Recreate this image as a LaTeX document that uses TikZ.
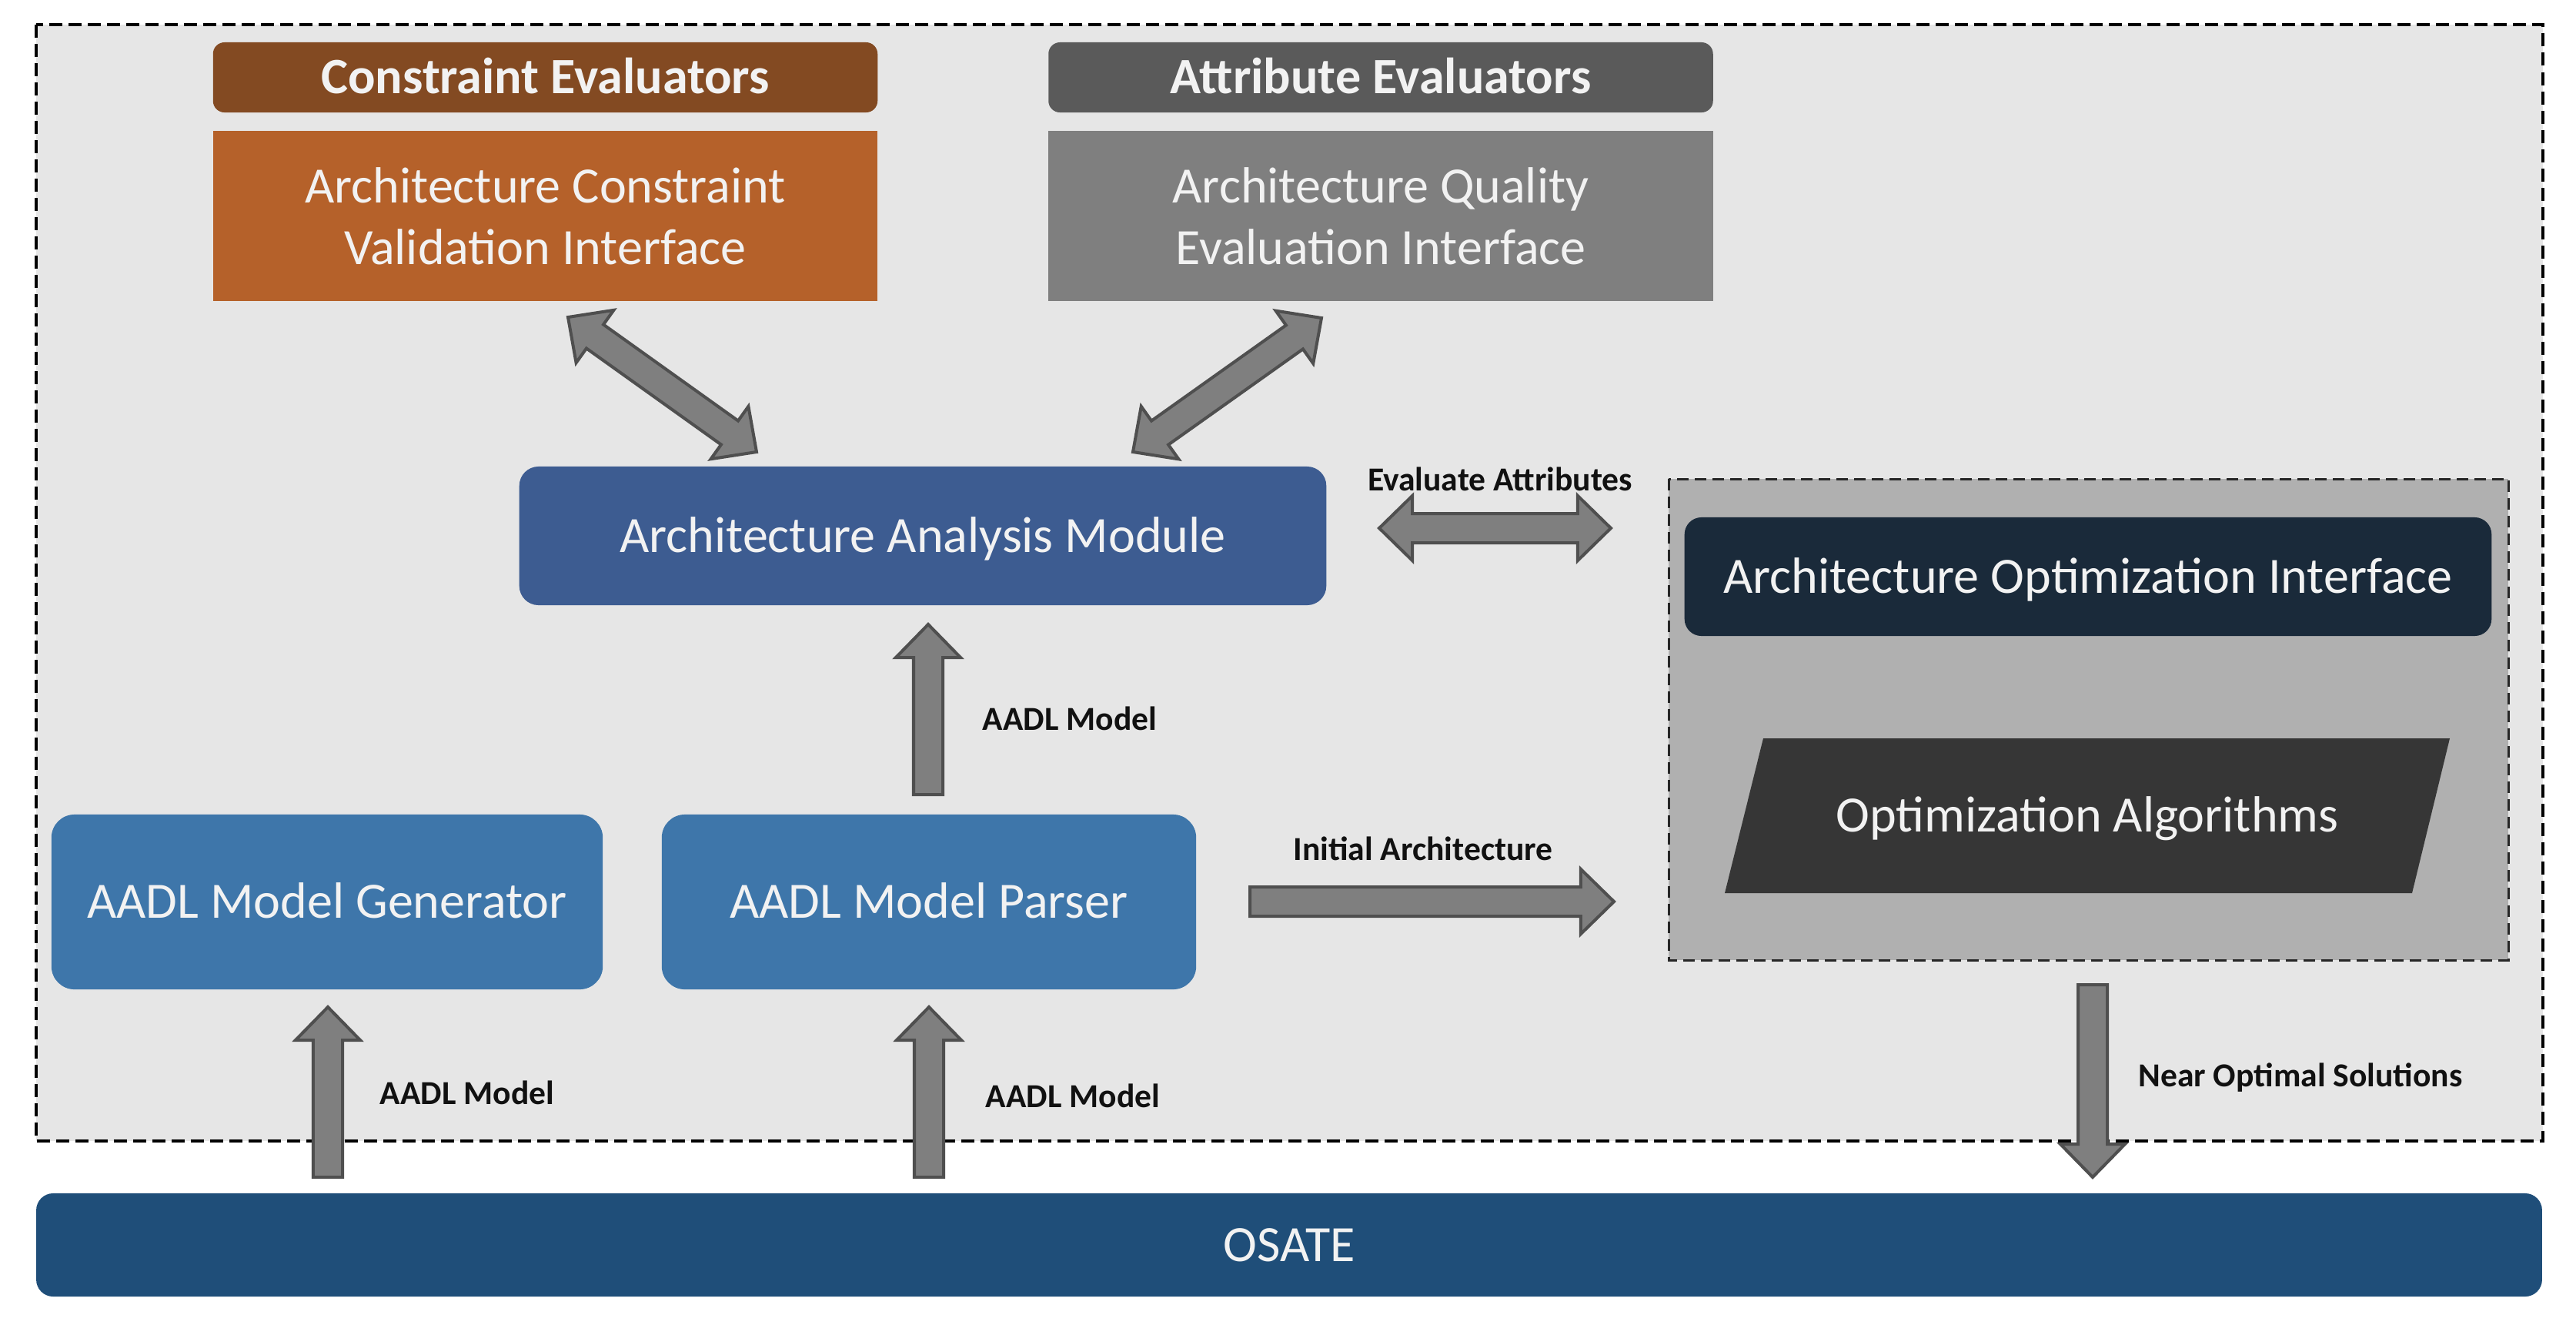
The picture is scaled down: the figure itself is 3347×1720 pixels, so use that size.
\documentclass[tikz,border=0pt]{standalone}
\usepackage{fontspec}
\setmainfont{Carlito}
\usetikzlibrary{calc}
\definecolor{outerbg}{HTML}{E6E6E6}
\definecolor{optbg}{HTML}{B0B0B0}
\definecolor{hdrC}{HTML}{834A22}
\definecolor{valC}{HTML}{B5612A}
\definecolor{hdrA}{HTML}{5A5A5A}
\definecolor{valA}{HTML}{7F7F7F}
\definecolor{aamc}{HTML}{3D5C91}
\definecolor{genc}{HTML}{3E76AA}
\definecolor{aoic}{HTML}{1A2A3A}
\definecolor{oac}{HTML}{363636}
\definecolor{osatec}{HTML}{1F4E79}
\definecolor{boxtxt}{HTML}{F2F2F2}
\definecolor{arrfill}{HTML}{7F7F7F}
\definecolor{arrdraw}{HTML}{4F4F4F}
\definecolor{lbltxt}{HTML}{111111}
\newcommand{\bigfnt}{\fontsize{18.8}{22.8}\selectfont}
\newcommand{\lblfnt}{\fontsize{12.4}{14}\selectfont\bfseries}
\newcommand{\blkarrow}[2]{%
  \coordinate (bh) at ($(#2)!0.43cm!(#1)$);
  \draw[blockarrow] ($(#1)!0.19cm!90:(#2)$) -- ($(bh)!0.19cm!90:(#2)$) -- ($(bh)!0.42cm!90:(#2)$) -- (#2) -- ($(bh)!0.42cm!-90:(#2)$) -- ($(bh)!0.19cm!-90:(#2)$) -- ($(#1)!0.19cm!-90:(#2)$) -- cycle;}
\newcommand{\blkdarrow}[2]{%
  \coordinate (bha) at ($(#1)!0.43cm!(#2)$);
  \coordinate (bhb) at ($(#2)!0.43cm!(#1)$);
  \draw[blockarrow] (#1) -- ($(bha)!0.42cm!90:(#2)$) -- ($(bha)!0.19cm!90:(#2)$) -- ($(bhb)!0.19cm!90:(#2)$) -- ($(bhb)!0.42cm!90:(#2)$) -- (#2) -- ($(bhb)!0.42cm!-90:(#2)$) -- ($(bhb)!0.19cm!-90:(#2)$) -- ($(bha)!0.19cm!-90:(#2)$) -- ($(bha)!0.42cm!-90:(#2)$) -- cycle;}
\tikzset{
  blockarrow/.style={fill=arrfill, draw=arrdraw, line width=0.04cm},
  boxbase/.style={inner sep=0pt, outer sep=0pt, text=boxtxt, font=\bigfnt, align=center},
  onebox/.style={boxbase, text height=12.1pt, text depth=0pt},
  hdrbox/.style={onebox, font=\bigfnt\bfseries, rounded corners=0.15cm},
  lbl/.style={inner sep=0pt, text=lbltxt, font=\lblfnt, anchor=base},
}
\begin{document}
\begin{tikzpicture}[x=0.01cm, y=-0.01cm]
\useasboundingbox (0,0) rectangle (3347,1720);
% outer region
\draw[fill=outerbg, draw=black, line width=0.04cm, dash pattern=on 0.17cm off 0.08cm] (47,32) rectangle (3304,1482);
% optimization region
\draw[fill=optbg, draw=black!85, line width=0.03cm, dash pattern=on 0.15cm off 0.08cm] (2168,622) rectangle (3259,1247);

% top boxes
\node[hdrbox, fill=hdrC, minimum width=8.63cm, minimum height=0.91cm] (hc) at (708.5,100.5) {Constraint Evaluators};
\node[boxbase, fill=valC, minimum width=8.63cm, minimum height=2.21cm] (vc) at (708.5,280.5) {Architecture Constraint\\Validation Interface};
\node[hdrbox, fill=hdrA, minimum width=8.63cm, minimum height=0.91cm] (ha) at (1794,100.5) {Attribute Evaluators};
\node[boxbase, fill=valA, minimum width=8.63cm, minimum height=2.21cm] (va) at (1794,280.5) {Architecture Quality\\Evaluation Interface};

% analysis module
\node[onebox, fill=aamc, rounded corners=0.25cm, minimum width=10.48cm, minimum height=1.80cm] (aam) at (1199,696) {Architecture Analysis Module};

% generator and parser
\node[onebox, fill=genc, rounded corners=0.3cm, minimum width=7.16cm, minimum height=2.27cm] (gen) at (425,1171.5) {AADL Model Generator};
\node[onebox, fill=genc, rounded corners=0.3cm, minimum width=6.94cm, minimum height=2.27cm] (par) at (1207,1171.5) {AADL Model Parser};

% optimization interface and algorithms
\node[onebox, fill=aoic, rounded corners=0.22cm, minimum width=10.48cm, minimum height=1.54cm] (aoi) at (2713,749) {Architecture Optimization Interface};
\coordinate (oa1) at (2291,959);
\coordinate (oa2) at (3183,959);
\coordinate (oa3) at (3134,1160);
\coordinate (oa4) at (2241,1160);
\fill[oac] (oa1) -- (oa2) -- (oa3) -- (oa4) -- cycle;
\node[onebox] (oa) at (2712,1059.5) {Optimization Algorithms};

% OSATE
\node[onebox, fill=osatec, rounded corners=0.22cm, minimum width=32.54cm, minimum height=1.34cm] (osate) at (1675,1617) {OSATE};

% arrow end points
\coordinate (c1) at (738,412);
\coordinate (c2) at (983,587);
\coordinate (a1) at (1717,413);
\coordinate (a2) at (1472,587);
\coordinate (e1) at (1792,686);
\coordinate (e2) at (2093,686);
\coordinate (p1) at (1206,1032);
\coordinate (p2) at (1206,811);
\coordinate (g1) at (426,1529);
\coordinate (g2) at (426,1308);
\coordinate (q1) at (1207,1529);
\coordinate (q2) at (1207,1308);
\coordinate (i1) at (1624,1171);
\coordinate (i2) at (2097,1171);
\coordinate (n1) at (2719,1279);
\coordinate (n2) at (2719,1529);

\blkdarrow{c1}{c2}
\blkdarrow{a1}{a2}
\blkdarrow{e1}{e2}
\blkarrow{p1}{p2}
\blkarrow{g1}{g2}
\blkarrow{q1}{q2}
\blkarrow{i1}{i2}
\blkarrow{n1}{n2}

% labels
\node[lbl] (lev) at (1949,637) {Evaluate Attributes};
\node[lbl] (lam) at (1390,948) {AADL Model};
\node[lbl] (lg) at (607,1434) {AADL Model};
\node[lbl] (lp) at (1394,1438) {AADL Model};
\node[lbl] (lia) at (1849,1117) {Initial Architecture};
\node[lbl] (lno) at (2989,1411) {Near Optimal Solutions};
\end{tikzpicture}
\end{document}
